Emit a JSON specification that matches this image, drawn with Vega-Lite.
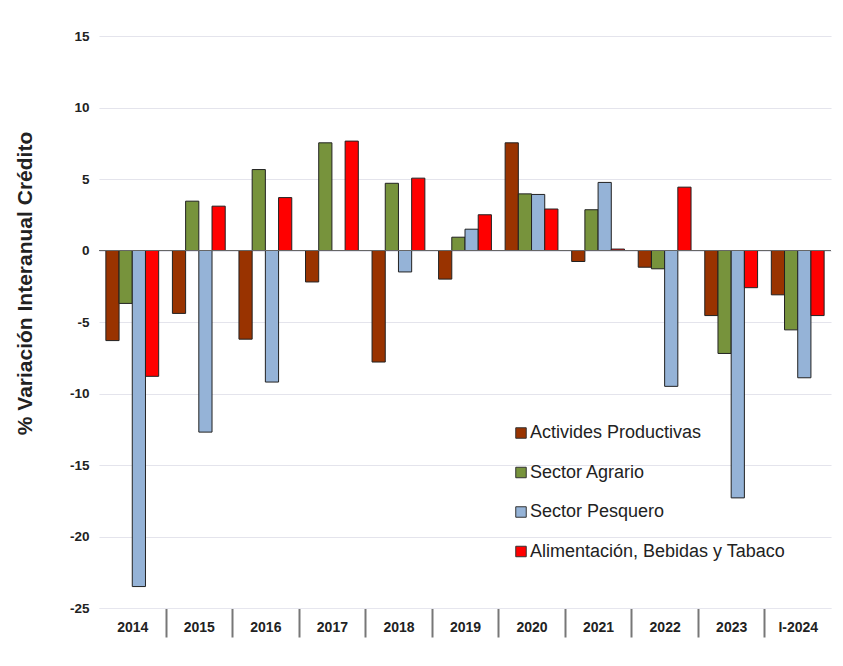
{
  "$schema": "https://vega.github.io/schema/vega-lite/v6.json",
  "autosize": {"type": "none"},
  "width": 732,
  "height": 572,
  "padding": {"left": 99, "top": 36, "right": 12, "bottom": 58},
  "background": "white",
  "config": {
    "font": "Liberation Sans",
    "view": {"stroke": null}
  },
  "data": {
    "values": [
      {"year": "2014", "serie": "Actividades Productivas", "v": -6.3},
      {"year": "2014", "serie": "Sector Agrario", "v": -3.7},
      {"year": "2014", "serie": "Sector Pesquero", "v": -23.5},
      {"year": "2014", "serie": "Alimentación, Bebidas y Tabaco", "v": -8.8},
      {"year": "2015", "serie": "Actividades Productivas", "v": -4.4},
      {"year": "2015", "serie": "Sector Agrario", "v": 3.45},
      {"year": "2015", "serie": "Sector Pesquero", "v": -12.7},
      {"year": "2015", "serie": "Alimentación, Bebidas y Tabaco", "v": 3.1},
      {"year": "2016", "serie": "Actividades Productivas", "v": -6.2},
      {"year": "2016", "serie": "Sector Agrario", "v": 5.66},
      {"year": "2016", "serie": "Sector Pesquero", "v": -9.2},
      {"year": "2016", "serie": "Alimentación, Bebidas y Tabaco", "v": 3.7},
      {"year": "2017", "serie": "Actividades Productivas", "v": -2.2},
      {"year": "2017", "serie": "Sector Agrario", "v": 7.53},
      {"year": "2017", "serie": "Sector Pesquero", "v": 0},
      {"year": "2017", "serie": "Alimentación, Bebidas y Tabaco", "v": 7.65},
      {"year": "2018", "serie": "Actividades Productivas", "v": -7.8},
      {"year": "2018", "serie": "Sector Agrario", "v": 4.7},
      {"year": "2018", "serie": "Sector Pesquero", "v": -1.5},
      {"year": "2018", "serie": "Alimentación, Bebidas y Tabaco", "v": 5.06},
      {"year": "2019", "serie": "Actividades Productivas", "v": -2.0},
      {"year": "2019", "serie": "Sector Agrario", "v": 0.93},
      {"year": "2019", "serie": "Sector Pesquero", "v": 1.49},
      {"year": "2019", "serie": "Alimentación, Bebidas y Tabaco", "v": 2.5},
      {"year": "2020", "serie": "Actividades Productivas", "v": 7.53},
      {"year": "2020", "serie": "Sector Agrario", "v": 3.96},
      {"year": "2020", "serie": "Sector Pesquero", "v": 3.92},
      {"year": "2020", "serie": "Alimentación, Bebidas y Tabaco", "v": 2.9},
      {"year": "2021", "serie": "Actividades Productivas", "v": -0.77},
      {"year": "2021", "serie": "Sector Agrario", "v": 2.85},
      {"year": "2021", "serie": "Sector Pesquero", "v": 4.76},
      {"year": "2021", "serie": "Alimentación, Bebidas y Tabaco", "v": 0.1},
      {"year": "2022", "serie": "Actividades Productivas", "v": -1.17},
      {"year": "2022", "serie": "Sector Agrario", "v": -1.28},
      {"year": "2022", "serie": "Sector Pesquero", "v": -9.5},
      {"year": "2022", "serie": "Alimentación, Bebidas y Tabaco", "v": 4.43},
      {"year": "2023", "serie": "Actividades Productivas", "v": -4.55},
      {"year": "2023", "serie": "Sector Agrario", "v": -7.2},
      {"year": "2023", "serie": "Sector Pesquero", "v": -17.3},
      {"year": "2023", "serie": "Alimentación, Bebidas y Tabaco", "v": -2.6},
      {"year": "I-2024", "serie": "Actividades Productivas", "v": -3.1},
      {"year": "I-2024", "serie": "Sector Agrario", "v": -5.55},
      {"year": "I-2024", "serie": "Sector Pesquero", "v": -8.9},
      {"year": "I-2024", "serie": "Alimentación, Bebidas y Tabaco", "v": -4.55}
    ]
  },
  "layer": [
    {
      "mark": {"type": "bar", "stroke": "#222222", "strokeWidth": 1},
      "encoding": {
        "x": {
          "field": "year", "type": "nominal", "sort": null,
          "scale": {"paddingInner": 0, "paddingOuter": 0},
          "axis": {
            "orient": "bottom", "title": null, "domain": true, "domainColor": "#e6e6ee",
            "tickBand": "extent", "tickSize": 29, "tickWidth": 2,
            "tickColor": {"condition": {"test": "!isValid(datum.value) || datum.index < 0 || datum.value === 'I-2024'", "value": "#ffffff"}, "value": "#777777"},
            "labelPadding": -17, "labelAngle": 0, "labelFontSize": 14, "labelFontWeight": "bold",
            "labelColor": "#222222", "grid": false
          }
        },
        "xOffset": {
          "field": "serie", "type": "nominal",
          "sort": ["Actividades Productivas", "Sector Agrario", "Sector Pesquero", "Alimentación, Bebidas y Tabaco"],
          "scale": {"paddingInner": 0, "paddingOuter": 0.52}
        },
        "y": {
          "field": "v", "type": "quantitative",
          "scale": {"domain": [-25, 15], "nice": false},
          "axis": {
            "values": [-25, -20, -15, -10, -5, 0, 5, 10, 15],
            "labelExpr": "toString(datum.value)",
            "title": "% Variación Interanual Crédito",
            "titleFontSize": 21, "titleFontWeight": "bold", "titleColor": "#222222",
            "titleX": -74, "titleY": 247, "titleAngle": -90, "titleAlign": "center", "titleBaseline": "middle",
            "labelFontSize": 13.5, "labelFontWeight": "bold", "labelColor": "#222222", "labelPadding": 10,
            "ticks": false, "domain": false, "grid": true, "gridColor": "#e4e4ec", "gridWidth": 1.2
          }
        },
        "color": {
          "field": "serie", "type": "nominal",
          "sort": ["Actividades Productivas", "Sector Agrario", "Sector Pesquero", "Alimentación, Bebidas y Tabaco"],
          "scale": {
            "domain": ["Actividades Productivas", "Sector Agrario", "Sector Pesquero", "Alimentación, Bebidas y Tabaco"],
            "range": ["#993300", "#77933c", "#95b3d7", "#ff0000"]
          },
          "legend": {
            "title": null, "orient": "none", "legendX": 413, "legendY": 388,
            "symbolType": "square", "symbolSize": 110, "symbolStrokeColor": "#333333", "symbolStrokeWidth": 1,
            "labelFontSize": 18, "labelColor": "#222222", "labelOffset": 0, "rowPadding": 21.5,
            "labelExpr": "datum.label == 'Actividades Productivas' ? 'Activides Productivas' : datum.label",
            "labelLimit": 400
          }
        }
      }
    },
    {
      "mark": {"type": "rule", "color": "#666666", "strokeWidth": 1.2},
      "data": {"values": [{"z": 0}]},
      "encoding": {"y": {"field": "z", "type": "quantitative"}}
    }
  ]
}
